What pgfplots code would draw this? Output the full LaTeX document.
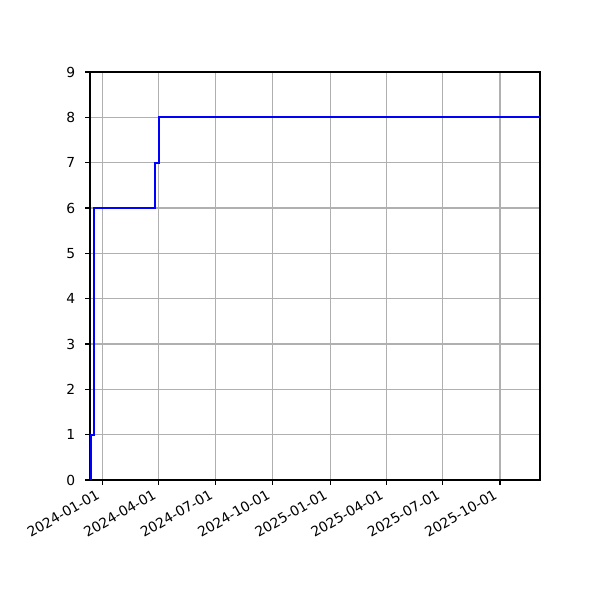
\documentclass[border=0pt]{standalone}
\usepackage{fontspec}
\setmainfont{DejaVu Sans}
\usepackage{pgfplots}
\pgfplotsset{compat=1.18}

\definecolor{gridgray}{HTML}{B0B0B0}

\begin{document}
\begin{tikzpicture}
\path[use as bounding box] (-0.9in,-1.2in) rectangle (5.1in,4.8in);
\begin{axis}[
    at={(0,0)}, anchor=south west,
    scale only axis,
    width=4.5in, height=4.08in,
    xmin=-19.75, xmax=703.3,
    ymin=0, ymax=9,
    xtick={0,91,182,274,366,456,547,639},
    xticklabels={2024-01-01,2024-04-01,2024-07-01,2024-10-01,2025-01-01,2025-04-01,2025-07-01,2025-10-01},
    ytick={0,1,...,9},
    tick align=outside,
    major tick length=3.5pt,
    tick style={black, line width=0.8pt},
    xtick pos=bottom, ytick pos=left,
    axis line style={line width=0.8pt},
    grid=major,
    grid style={gridgray, line width=0.8pt},
    /pgf/number format/assume math mode=true,
    tick label style={font=\fontsize{10}{12}\selectfont},
    xticklabel style={yshift=-9.5pt, xshift=-1pt, rotate=30, anchor=south east, inner sep=0pt},
    yticklabel style={anchor=east, inner sep=0pt, xshift=-7pt},
]
\addplot[blue, line width=1.5pt, line join=miter] coordinates {
    (-18,0) (-18,1) (-14,1) (-14,6) (85,6) (85,7) (91,7) (91,8) (710,8)
};
\end{axis}
\end{tikzpicture}
\end{document}
